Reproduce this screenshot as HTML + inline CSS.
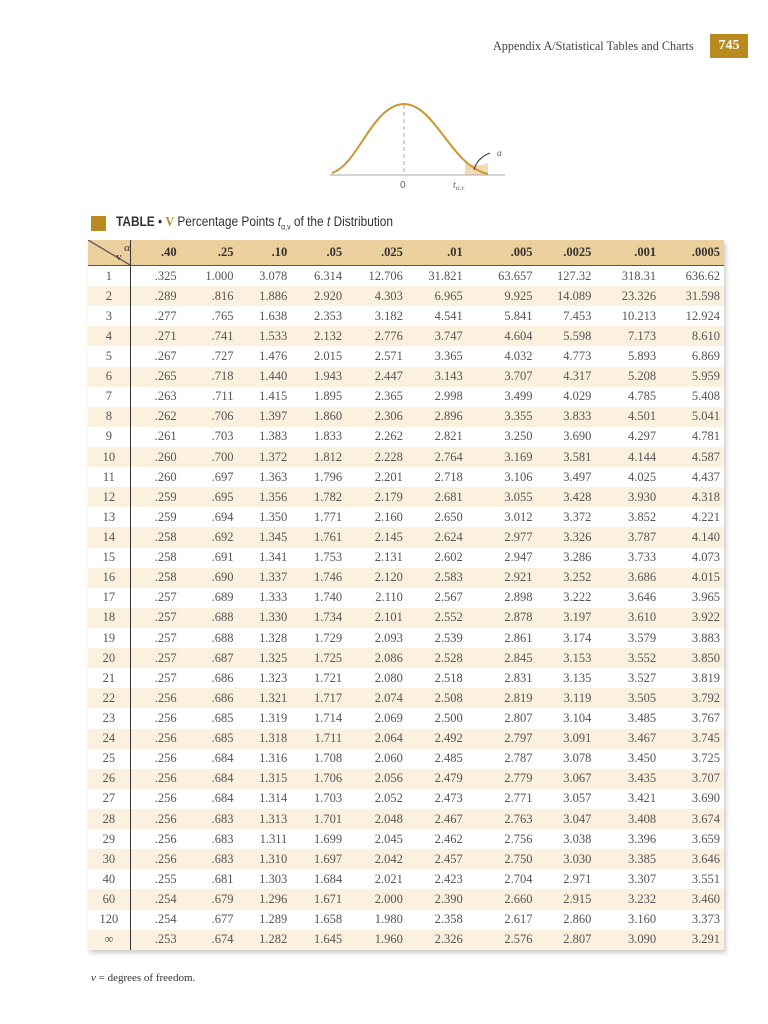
<!DOCTYPE html>
<html><head><meta charset="utf-8"><style>
body{margin:0;width:768px;height:1024px;background:#fff;position:relative;overflow:hidden;font-family:"Liberation Serif",serif;color:#333}
.hdr{position:absolute;left:493px;top:39px;font-size:12.2px;color:#444}
.pg{position:absolute;left:710px;top:34px;width:38px;height:24px;background:#b98a1e;color:#fff;font-weight:bold;font-size:14px;text-align:center;line-height:24px}
.sq{position:absolute;left:91px;top:216px;width:15px;height:15px;background:#b98a1e}
.title{position:absolute;left:116px;top:214px;font-family:"Liberation Sans",sans-serif;font-size:13.5px;color:#333;transform:scaleX(.88);transform-origin:left}
table{position:absolute;left:88px;top:240px;width:636px;border-collapse:collapse;font-size:12.5px;box-shadow:2px 3px 4px #ccc}
td{height:20.12px;padding:0;text-align:right;color:#555}
td:first-child{text-align:center;width:42px;border-right:1.5px solid #333}
tr:nth-child(odd):not(.h){background:#fcf0df}
tr.h td{background:#ebcf9c;height:25px;font-weight:bold;text-align:right;border-bottom:1.5px solid #555;color:#333}
tr.h td:first-child{background:linear-gradient(to top right,#ebcf9c 48%,#555 49%,#555 51%,#ebcf9c 52%);font-weight:normal;font-size:11px;line-height:9px}
td:nth-child(2){width:46px}td:nth-child(3){width:57px}td:nth-child(4){width:54px}td:nth-child(5){width:55px}td:nth-child(6){width:61px}td:nth-child(7){width:60px}td:nth-child(8){width:70px}td:nth-child(9){width:59px}td:nth-child(10){width:65px}td:nth-child(11){width:64px;padding-right:4px}
.foot{position:absolute;left:91px;top:972px;font-size:11px}
</style></head><body>
<div class="hdr">Appendix A/Statistical Tables and Charts</div>
<div class="pg">745</div>
<svg style="position:absolute;left:0;top:0" width="768" height="200">
<path d="M465,175 L488,175 L488,163 Q476,168 465,162 Z" fill="#f3dcb5"/>
<line x1="330" y1="175" x2="505" y2="175" stroke="#aaa" stroke-width="1"/>
<line x1="404" y1="105" x2="404" y2="175" stroke="#aaa" stroke-dasharray="4,3"/>
<path d="M332,173 C358,165 372,105 404,104 C436,105 450,165 488,174" fill="none" stroke="#c8982c" stroke-width="2"/>
<path d="M474,170 Q477,158 490,153" fill="none" stroke="#333" stroke-width="1"/>
<text x="497" y="156" font-size="9" font-style="italic" fill="#555">α</text>
<text x="400" y="188" font-size="10" fill="#666" font-family="Liberation Sans">0</text>
<text x="453" y="188" font-size="10" fill="#666" font-style="italic">t<tspan font-size="7" dy="2">α,v</tspan></text>
</svg>
<div class="sq"></div>
<div class="title"><b>TABLE</b> • <b style="font-family:'Liberation Serif';color:#b98a1e">V</b> Percentage Points <i>t</i><sub style="font-size:8px">α,v</sub> of the <i>t</i> Distribution</div>
<table>
<tr class="h"><td>&nbsp;&nbsp;α<br>v&nbsp;&nbsp;&nbsp;</td><td>.40</td><td>.25</td><td>.10</td><td>.05</td><td>.025</td><td>.01</td><td>.005</td><td>.0025</td><td>.001</td><td>.0005</td></tr>
<tr><td>1</td><td>.325</td><td>1.000</td><td>3.078</td><td>6.314</td><td>12.706</td><td>31.821</td><td>63.657</td><td>127.32</td><td>318.31</td><td>636.62</td></tr>
<tr><td>2</td><td>.289</td><td>.816</td><td>1.886</td><td>2.920</td><td>4.303</td><td>6.965</td><td>9.925</td><td>14.089</td><td>23.326</td><td>31.598</td></tr>
<tr><td>3</td><td>.277</td><td>.765</td><td>1.638</td><td>2.353</td><td>3.182</td><td>4.541</td><td>5.841</td><td>7.453</td><td>10.213</td><td>12.924</td></tr>
<tr><td>4</td><td>.271</td><td>.741</td><td>1.533</td><td>2.132</td><td>2.776</td><td>3.747</td><td>4.604</td><td>5.598</td><td>7.173</td><td>8.610</td></tr>
<tr><td>5</td><td>.267</td><td>.727</td><td>1.476</td><td>2.015</td><td>2.571</td><td>3.365</td><td>4.032</td><td>4.773</td><td>5.893</td><td>6.869</td></tr>
<tr><td>6</td><td>.265</td><td>.718</td><td>1.440</td><td>1.943</td><td>2.447</td><td>3.143</td><td>3.707</td><td>4.317</td><td>5.208</td><td>5.959</td></tr>
<tr><td>7</td><td>.263</td><td>.711</td><td>1.415</td><td>1.895</td><td>2.365</td><td>2.998</td><td>3.499</td><td>4.029</td><td>4.785</td><td>5.408</td></tr>
<tr><td>8</td><td>.262</td><td>.706</td><td>1.397</td><td>1.860</td><td>2.306</td><td>2.896</td><td>3.355</td><td>3.833</td><td>4.501</td><td>5.041</td></tr>
<tr><td>9</td><td>.261</td><td>.703</td><td>1.383</td><td>1.833</td><td>2.262</td><td>2.821</td><td>3.250</td><td>3.690</td><td>4.297</td><td>4.781</td></tr>
<tr><td>10</td><td>.260</td><td>.700</td><td>1.372</td><td>1.812</td><td>2.228</td><td>2.764</td><td>3.169</td><td>3.581</td><td>4.144</td><td>4.587</td></tr>
<tr><td>11</td><td>.260</td><td>.697</td><td>1.363</td><td>1.796</td><td>2.201</td><td>2.718</td><td>3.106</td><td>3.497</td><td>4.025</td><td>4.437</td></tr>
<tr><td>12</td><td>.259</td><td>.695</td><td>1.356</td><td>1.782</td><td>2.179</td><td>2.681</td><td>3.055</td><td>3.428</td><td>3.930</td><td>4.318</td></tr>
<tr><td>13</td><td>.259</td><td>.694</td><td>1.350</td><td>1.771</td><td>2.160</td><td>2.650</td><td>3.012</td><td>3.372</td><td>3.852</td><td>4.221</td></tr>
<tr><td>14</td><td>.258</td><td>.692</td><td>1.345</td><td>1.761</td><td>2.145</td><td>2.624</td><td>2.977</td><td>3.326</td><td>3.787</td><td>4.140</td></tr>
<tr><td>15</td><td>.258</td><td>.691</td><td>1.341</td><td>1.753</td><td>2.131</td><td>2.602</td><td>2.947</td><td>3.286</td><td>3.733</td><td>4.073</td></tr>
<tr><td>16</td><td>.258</td><td>.690</td><td>1.337</td><td>1.746</td><td>2.120</td><td>2.583</td><td>2.921</td><td>3.252</td><td>3.686</td><td>4.015</td></tr>
<tr><td>17</td><td>.257</td><td>.689</td><td>1.333</td><td>1.740</td><td>2.110</td><td>2.567</td><td>2.898</td><td>3.222</td><td>3.646</td><td>3.965</td></tr>
<tr><td>18</td><td>.257</td><td>.688</td><td>1.330</td><td>1.734</td><td>2.101</td><td>2.552</td><td>2.878</td><td>3.197</td><td>3.610</td><td>3.922</td></tr>
<tr><td>19</td><td>.257</td><td>.688</td><td>1.328</td><td>1.729</td><td>2.093</td><td>2.539</td><td>2.861</td><td>3.174</td><td>3.579</td><td>3.883</td></tr>
<tr><td>20</td><td>.257</td><td>.687</td><td>1.325</td><td>1.725</td><td>2.086</td><td>2.528</td><td>2.845</td><td>3.153</td><td>3.552</td><td>3.850</td></tr>
<tr><td>21</td><td>.257</td><td>.686</td><td>1.323</td><td>1.721</td><td>2.080</td><td>2.518</td><td>2.831</td><td>3.135</td><td>3.527</td><td>3.819</td></tr>
<tr><td>22</td><td>.256</td><td>.686</td><td>1.321</td><td>1.717</td><td>2.074</td><td>2.508</td><td>2.819</td><td>3.119</td><td>3.505</td><td>3.792</td></tr>
<tr><td>23</td><td>.256</td><td>.685</td><td>1.319</td><td>1.714</td><td>2.069</td><td>2.500</td><td>2.807</td><td>3.104</td><td>3.485</td><td>3.767</td></tr>
<tr><td>24</td><td>.256</td><td>.685</td><td>1.318</td><td>1.711</td><td>2.064</td><td>2.492</td><td>2.797</td><td>3.091</td><td>3.467</td><td>3.745</td></tr>
<tr><td>25</td><td>.256</td><td>.684</td><td>1.316</td><td>1.708</td><td>2.060</td><td>2.485</td><td>2.787</td><td>3.078</td><td>3.450</td><td>3.725</td></tr>
<tr><td>26</td><td>.256</td><td>.684</td><td>1.315</td><td>1.706</td><td>2.056</td><td>2.479</td><td>2.779</td><td>3.067</td><td>3.435</td><td>3.707</td></tr>
<tr><td>27</td><td>.256</td><td>.684</td><td>1.314</td><td>1.703</td><td>2.052</td><td>2.473</td><td>2.771</td><td>3.057</td><td>3.421</td><td>3.690</td></tr>
<tr><td>28</td><td>.256</td><td>.683</td><td>1.313</td><td>1.701</td><td>2.048</td><td>2.467</td><td>2.763</td><td>3.047</td><td>3.408</td><td>3.674</td></tr>
<tr><td>29</td><td>.256</td><td>.683</td><td>1.311</td><td>1.699</td><td>2.045</td><td>2.462</td><td>2.756</td><td>3.038</td><td>3.396</td><td>3.659</td></tr>
<tr><td>30</td><td>.256</td><td>.683</td><td>1.310</td><td>1.697</td><td>2.042</td><td>2.457</td><td>2.750</td><td>3.030</td><td>3.385</td><td>3.646</td></tr>
<tr><td>40</td><td>.255</td><td>.681</td><td>1.303</td><td>1.684</td><td>2.021</td><td>2.423</td><td>2.704</td><td>2.971</td><td>3.307</td><td>3.551</td></tr>
<tr><td>60</td><td>.254</td><td>.679</td><td>1.296</td><td>1.671</td><td>2.000</td><td>2.390</td><td>2.660</td><td>2.915</td><td>3.232</td><td>3.460</td></tr>
<tr><td>120</td><td>.254</td><td>.677</td><td>1.289</td><td>1.658</td><td>1.980</td><td>2.358</td><td>2.617</td><td>2.860</td><td>3.160</td><td>3.373</td></tr>
<tr><td>∞</td><td>.253</td><td>.674</td><td>1.282</td><td>1.645</td><td>1.960</td><td>2.326</td><td>2.576</td><td>2.807</td><td>3.090</td><td>3.291</td></tr>
</table>
<div class="foot"><i>v</i> = degrees of freedom.</div>
</body></html>
